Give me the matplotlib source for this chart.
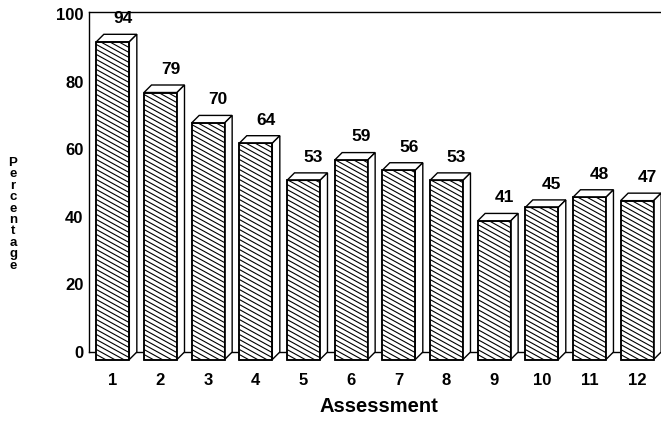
import numpy as np
import matplotlib.pyplot as plt
from matplotlib.patches import Polygon, Rectangle
from matplotlib.collections import LineCollection

plt.rcParams['font.family'] = ['Liberation Sans', 'DejaVu Sans']

assessments = [str(i) for i in range(1, 13)]
percentages = [94, 79, 70, 64, 53, 59, 56, 53, 41, 45, 48, 47]
y_ticks = [0, 20, 40, 60, 80, 100]

W, H = 661, 421
fig = plt.figure(figsize=(W / 100, H / 100), dpi=100)
ax = fig.add_axes([89 / W, (H - 352) / H, 571 / W, 340 / H])
ax.set_xlim(0.5, 12.48)
ax.set_ylim(0, 100.6)

# pixels per data unit, used for the fake 3d depth and hatching
px_x = 571 / (12.48 - 0.5)
px_y = 340 / 100.6
dx = 7.5 / px_x
dy = 7.5 / px_y
half = 16.5 / px_x

slope = 0.55      # hatch drop (px) per px across
step = 5.0        # vertical spacing of hatch lines (px)

for i, v in enumerate(percentages):
    c = i + 1
    x0, x1 = c - half, c + half
    front = Rectangle((x0, -dy), x1 - x0, v, facecolor='white',
                      edgecolor='black', lw=1.1, clip_on=False, zorder=3)
    ax.add_patch(front)
    top = Polygon([(x0, v - dy), (x1, v - dy), (x1 + dx, v), (x0 + dx, v)],
                  closed=True, facecolor='white', edgecolor='black',
                  lw=1.0, clip_on=False, zorder=3)
    side = Polygon([(x1, -dy), (x1 + dx, 0), (x1 + dx, v), (x1, v - dy)],
                   closed=True, facecolor='white', edgecolor='black',
                   lw=1.0, clip_on=False, zorder=3)
    ax.add_patch(top)
    ax.add_patch(side)

    # diagonal hatch on the front face
    w_px = (x1 - x0) * px_x
    h_px = v * px_y
    segs = []
    for s in np.arange(0, h_px + w_px * slope, step):
        ya = -dy + s / px_y
        yb = -dy + (s - w_px * slope) / px_y
        segs.append([(x0, ya), (x1, yb)])
    lc = LineCollection(segs, colors='black', linewidths=0.8, zorder=4)
    ax.add_collection(lc)
    lc.set_clip_path(front)
    ax.add_patch(Rectangle((x0, -dy), x1 - x0, v, facecolor='none',
                           edgecolor='black', lw=1.1, clip_on=False, zorder=5))

    ax.text(c + 0.21, v + 2.4, str(v), ha='center', va='bottom',
            fontsize=12.5, fontweight='bold')

ax.set_xticks(range(1, 13))
ax.set_xticklabels(assessments, fontsize=12, fontweight='bold')
ax.set_yticks(y_ticks)
ax.set_yticklabels([str(t) for t in y_ticks], fontsize=12, fontweight='bold')
ax.tick_params(axis='x', length=0, pad=15)
ax.tick_params(axis='y', length=0, pad=4)

ax.spines['right'].set_visible(False)
for s in ['left', 'top', 'bottom']:
    ax.spines[s].set_linewidth(1.0)

fig.text(379 / W, 1 - 407 / H, 'Assessment', ha='center', va='center',
         fontsize=14.5, fontweight='bold')

for k, ch in enumerate('Percentage'):
    fig.text(13 / W, 1 - (163 + 11.4 * k) / H, ch, ha='center', va='center',
             fontsize=9.5, fontweight='bold')

fig.savefig('out.png', dpi=100)
